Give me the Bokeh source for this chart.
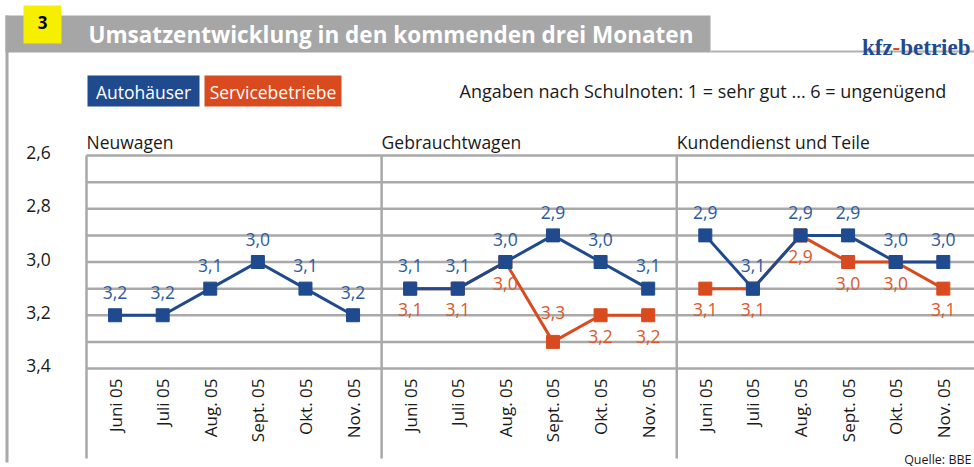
import math
from bokeh.plotting import figure
from bokeh.models import Range1d, ColumnDataSource
from bokeh.core.properties import value
from bokeh.embed import file_html
from bokeh.resources import INLINE

# ---------------- data ----------------
months = ["Juni 05", "Juli 05", "Aug. 05", "Sept. 05", "Okt. 05", "Nov. 05"]
panels = ["Neuwagen", "Gebrauchtwagen", "Kundendienst und Teile"]
auto_neuwagen = [3.2, 3.2, 3.1, 3.0, 3.1, 3.2]
auto_gebraucht = [3.1, 3.1, 3.0, 2.9, 3.0, 3.1]
serv_gebraucht = [3.1, 3.1, 3.0, 3.3, 3.2, 3.2]
auto_kunden = [2.9, 3.1, 2.9, 2.9, 3.0, 3.0]
serv_kunden = [3.1, 3.1, 2.9, 3.0, 3.0, 3.1]
y_tick_values = [2.6, 2.8, 3.0, 3.2, 3.4]
y_tick_labels = ["2,6", "2,8", "3,0", "3,2", "3,4"]
grid_values = [2.6, 2.7, 2.8, 2.9, 3.0, 3.1, 3.2, 3.3, 3.4]
title = "Umsatzentwicklung in den kommenden drei Monaten"
note = "Angaben nach Schulnoten: 1 = sehr gut ... 6 = ungenügend"
legend_names = ["Autohäuser", "Servicebetriebe"]
source_text = "Quelle: BBE"

# ---------------- layout / style ----------------
W, H = 974, 467
OX, OY = 0, 0
UX = 47.6                     # px per category
X0_REF = 86                   # px of first panel divider
PANEL_W = 6.2                 # panel width in category units
MARGIN = 0.6
Y_TOP_REF, Y_BOT_REF = 155, 368
UY = (Y_BOT_REF - Y_TOP_REF) / 0.8

BLUE = "#1f4a8e"
ORANGE = "#d94a1e"
BLUE_TXT = "#2d5a9e"
ORANGE_TXT = "#e0562b"
GRID = "#a9a9a9"
FONT = value("Open Sans")

def ydata(ref_y):
    return 2.6 + (ref_y - Y_TOP_REF) / UY

x_start = (OX - X0_REF) / UX
x_end = (OX + W - X0_REF) / UX

p = figure(width=W, height=H, output_backend="svg", toolbar_location=None,
           x_range=Range1d(x_start, x_end),
           y_range=Range1d(ydata(OY + H), ydata(OY)),
           x_axis_location=None, y_axis_location=None, min_border=0)
p.grid.visible = False
p.outline_line_color = None
p.background_fill_color = "white"
p.border_fill_color = "white"
p.extra_x_ranges = {"px": Range1d(OX, OX + W)}
p.extra_y_ranges = {"px": Range1d(OY + H, OY)}
PX = dict(x_range_name="px", y_range_name="px")

# ---------------- header ----------------
p.segment(x0=[6.5], y0=[15], x1=[6.5], y1=[462], line_color="#a8a8a8", line_width=3, **PX)
p.quad(left=[5], right=[710], top=[15], bottom=[52], fill_color="#a6a6a6", line_color=None, **PX)
p.segment(x0=[710], y0=[51], x1=[OX + W], y1=[51], line_color="#b0b0b0", line_width=2, **PX)
p.quad(left=[23], right=[61], top=[5], bottom=[43], fill_color="#f6ef00", line_color=None, **PX)
p.text(x=[42], y=[22], text=["3"], text_color="black", text_font=FONT, text_font_style="bold",
       text_font_size="17px", text_align="center", text_baseline="middle", **PX)
p.text(x=[88], y=[34], text=[title], text_color="white", text_font=FONT, text_font_style="bold",
       text_font_size="22.5px", text_align="left", text_baseline="middle", **PX)

SERIF = value("Liberation Serif")
kfz_parts = ["kfz", "-", "betrieb"]
kfz_widths = [30.6, 7.6, 70.3]
kfz_colors = [BLUE, ORANGE, BLUE]
right = 970
for part, w, c in zip(reversed(kfz_parts), reversed(kfz_widths), reversed(kfz_colors)):
    p.text(x=[right], y=[47], text=[part], text_color=c, text_font=SERIF, text_font_style="bold",
           text_font_size="23px", text_align="right", text_baseline="alphabetic", **PX)
    right -= w

# legend boxes
p.quad(left=[87, 204], right=[199, 341], top=[75, 75], bottom=[106, 106],
       fill_color=[BLUE, ORANGE], line_color=None, **PX)
p.text(x=[143, 272.5], y=[91, 91], text=legend_names, text_color="white", text_font=FONT,
       text_font_size="17.5px", text_align="center", text_baseline="middle", **PX)
p.text(x=[459], y=[90], text=[note], text_color="#1a1a1a", text_font=FONT,
       text_font_size="18px", text_align="left", text_baseline="middle", **PX)
p.text(x=[971], y=[459], text=[source_text], text_color="#1a1a1a", text_font=FONT,
       text_font_size="12.5px", text_align="right", text_baseline="middle", **PX)

# ---------------- grid ----------------
p.segment(x0=[0] * len(grid_values), x1=[x_end] * len(grid_values), y0=grid_values, y1=grid_values,
          line_color=GRID, line_width=2.5)
div_x = [k * PANEL_W for k in range(len(panels))]
p.segment(x0=div_x, x1=div_x, y0=[2.6] * 3, y1=[ydata(458)] * 3, line_color=GRID, line_width=2.5)

# y tick labels
p.text(x=[(38 - X0_REF) / UX] * len(y_tick_values), y=y_tick_values, text=y_tick_labels,
       text_color="#1a1a1a", text_font=FONT, text_font_size="17.5px", text_align="center",
       text_baseline="middle", y_offset=-3)

# panel titles
p.text(x=div_x, y=[2.6] * 3, text=panels, text_color="#1a1a1a", text_font=FONT,
       text_font_size="17.5px", text_align="left", text_baseline="middle", y_offset=-14)

# x tick labels
xs_all, lab_all = [], []
for k in range(len(panels)):
    for i, m in enumerate(months):
        xs_all.append(k * PANEL_W + MARGIN + i)
        lab_all.append(m)
p.text(x=xs_all, y=[ydata(378)] * len(xs_all), text=lab_all, angle=math.pi / 2,
       text_color="#1a1a1a", text_font=FONT, text_font_size="17px",
       text_align="right", text_baseline="middle")

# ---------------- series ----------------
def fmt(v):
    return f"{v:.1f}".replace(".", ",")

def draw(k, vals, color, txt_color, offsets):
    xs = [k * PANEL_W + MARGIN + i for i in range(len(vals))]
    p.line(xs, vals, line_color=color, line_width=3)
    p.scatter(xs, vals, marker="square", size=13, fill_color=color, line_color=color)
    src = ColumnDataSource(dict(x=xs, y=vals, t=[fmt(v) for v in vals], off=offsets))
    p.text(x="x", y="y", text="t", y_offset="off", source=src, text_color=txt_color,
           text_font=FONT, text_font_size="17.5px", text_align="center", text_baseline="middle")

def serv_offsets(serv, auto):
    # orange label below, unless far below the blue line
    return [-29 if s - a >= 0.3 else 21 for s, a in zip(serv, auto)]

draw(1, serv_gebraucht, ORANGE, ORANGE_TXT, serv_offsets(serv_gebraucht, auto_gebraucht))
draw(2, serv_kunden, ORANGE, ORANGE_TXT, serv_offsets(serv_kunden, auto_kunden))
draw(0, auto_neuwagen, BLUE, BLUE_TXT, [-23] * 6)
draw(1, auto_gebraucht, BLUE, BLUE_TXT, [-23] * 6)
draw(2, auto_kunden, BLUE, BLUE_TXT, [-23] * 6)

open("out.html", "w").write(file_html(p, INLINE))
